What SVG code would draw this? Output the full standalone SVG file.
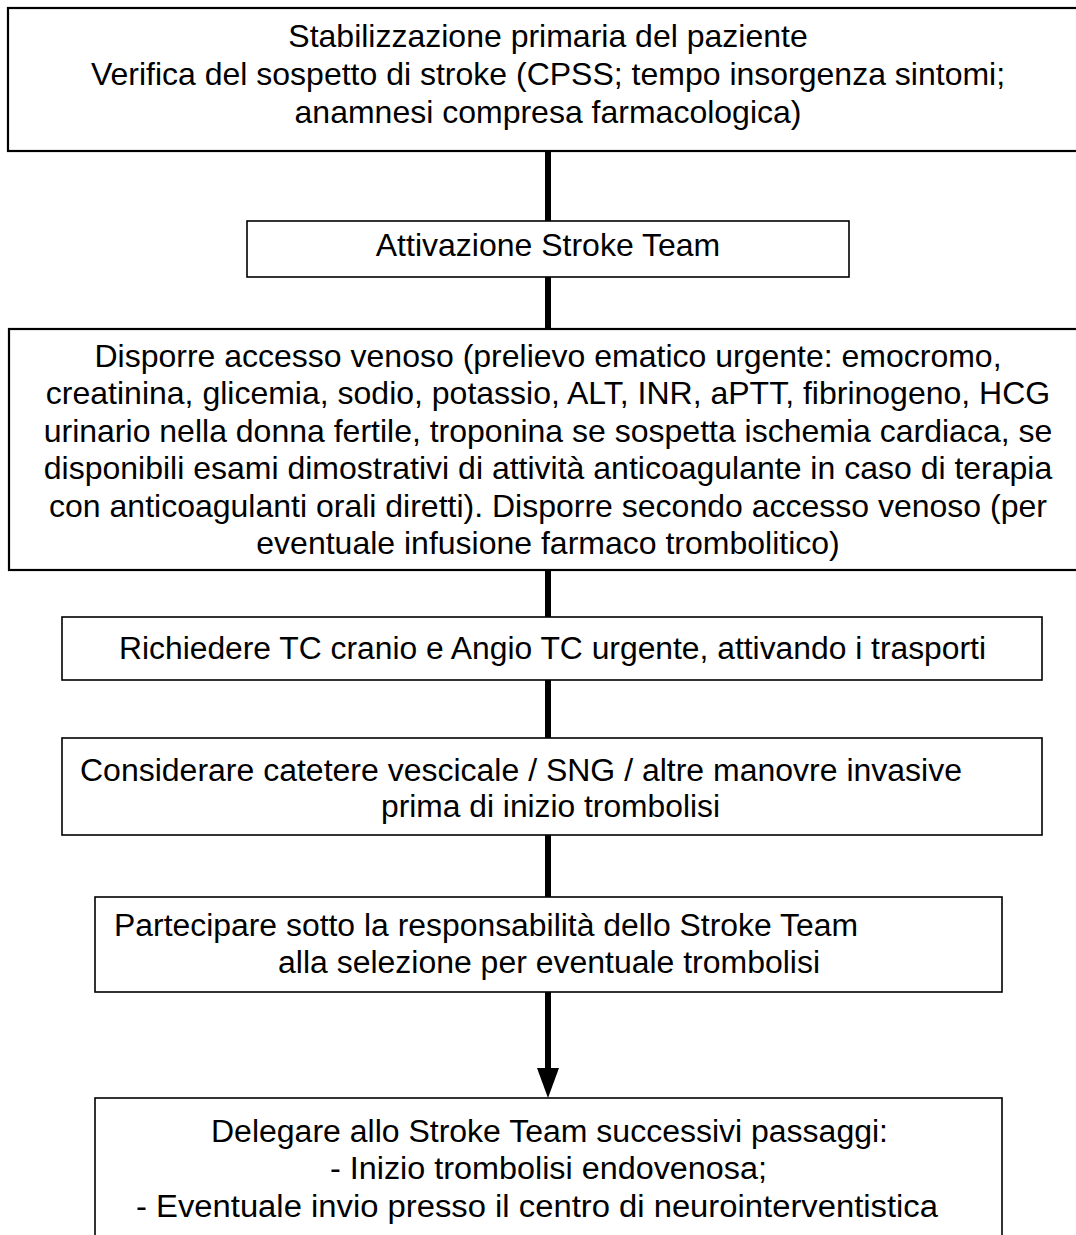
<svg xmlns="http://www.w3.org/2000/svg" width="1076" height="1235" viewBox="0 0 1076 1235">
<style>
.box{fill:#fff;stroke:#000;stroke-width:1.6}
.thick{stroke-width:2.2}
text{font-family:"Liberation Sans",Arial,sans-serif;font-size:32px;fill:#000}
.c{text-anchor:middle}
.cond{font-size:31px}
.link{stroke:#000;stroke-width:6;fill:none}
</style>
<rect width="1076" height="1235" fill="#fff"/>
<g id="connectors">
<line class="link" x1="548" y1="151" x2="548" y2="221"/>
<line class="link" x1="548" y1="277" x2="548" y2="329"/>
<line class="link" x1="548" y1="570" x2="548" y2="617"/>
<line class="link" x1="548" y1="680" x2="548" y2="738"/>
<line class="link" x1="548" y1="835" x2="548" y2="897"/>
<line class="link" x1="548" y1="992" x2="548" y2="1070"/>
<path d="M537,1068 L559,1068 L548,1098 Z" fill="#000"/>
</g>
<g id="n1">
<rect class="box thick" x="8" y="8" width="1080" height="143"/>
<text class="c" x="548" y="47">Stabilizzazione primaria del paziente</text>
<text class="c" x="548" y="85">Verifica del sospetto di stroke (CPSS; tempo insorgenza sintomi;</text>
<text class="c" x="548" y="123">anamnesi compresa farmacologica)</text>
</g>
<g id="n2">
<rect class="box" x="247" y="221" width="602" height="56"/>
<text class="c" x="548" y="256">Attivazione Stroke Team</text>
</g>
<g id="n3">
<rect class="box thick" x="9" y="329" width="1080" height="241"/>
<text class="c" x="548" y="367">Disporre accesso venoso (prelievo ematico urgente: emocromo,</text>
<text class="c" x="548" y="404">creatinina, glicemia, sodio, potassio, ALT, INR, aPTT, fibrinogeno, HCG</text>
<text class="c" x="548" y="442">urinario nella donna fertile, troponina se sospetta ischemia cardiaca, se</text>
<text class="c" x="548" y="479">disponibili esami dimostrativi di attività anticoagulante in caso di terapia</text>
<text class="c" x="548" y="517">con anticoagulanti orali diretti). Disporre secondo accesso venoso (per</text>
<text class="c" x="548" y="554">eventuale infusione farmaco trombolitico)</text>
</g>
<g id="n4">
<rect class="box" x="62" y="617" width="980" height="63"/>
<text class="cond" x="119" y="659" textLength="867" lengthAdjust="spacingAndGlyphs">Richiedere TC cranio e Angio TC urgente, attivando i trasporti</text>
</g>
<g id="n5">
<rect class="box" x="62" y="738" width="980" height="97"/>
<text class="cond" x="80" y="781" textLength="882" lengthAdjust="spacingAndGlyphs">Considerare catetere vescicale / SNG / altre manovre invasive</text>
<text class="cond" x="381" y="817" textLength="339" lengthAdjust="spacingAndGlyphs">prima di inizio trombolisi</text>
</g>
<g id="n6">
<rect class="box" x="95" y="897" width="907" height="95"/>
<text class="cond" x="114" y="936" textLength="744" lengthAdjust="spacingAndGlyphs">Partecipare sotto la responsabilità dello Stroke Team</text>
<text class="cond" x="278" y="973" textLength="542" lengthAdjust="spacingAndGlyphs">alla selezione per eventuale trombolisi</text>
</g>
<g id="n7">
<rect class="box" x="95" y="1098" width="907" height="160"/>
<text class="cond" x="211" y="1142" textLength="677" lengthAdjust="spacingAndGlyphs">Delegare allo Stroke Team successivi passaggi:</text>
<text class="cond" x="330" y="1179" textLength="437" lengthAdjust="spacingAndGlyphs">- Inizio trombolisi endovenosa;</text>
<text class="cond" x="136" y="1217" textLength="802" lengthAdjust="spacingAndGlyphs">- Eventuale invio presso il centro di neurointerventistica</text>
</g>
</svg>
